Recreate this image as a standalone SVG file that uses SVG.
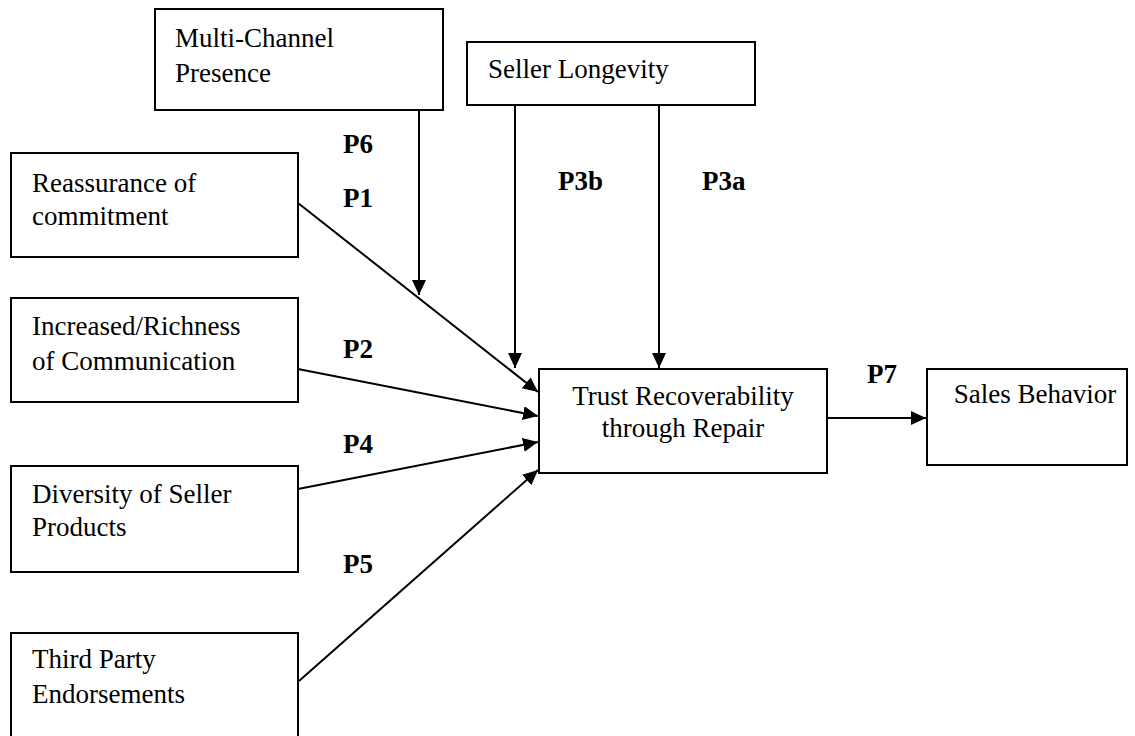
<svg xmlns="http://www.w3.org/2000/svg" width="1135" height="736" viewBox="0 0 1135 736">
<style>
.box{fill:#fff;stroke:#000;stroke-width:2}
.t{font-family:"Liberation Serif","Times New Roman",serif;font-size:27px;fill:#000}
.p{font-family:"Liberation Serif","Times New Roman",serif;font-size:27px;font-weight:bold;fill:#000}
.c{stroke:#000;stroke-width:2;fill:none;marker-end:url(#ah)}
</style>
<defs>
<marker id="ah" markerUnits="userSpaceOnUse" markerWidth="16" markerHeight="14" refX="15" refY="7" orient="auto">
<path d="M0,0 L15,7 L0,14 z" fill="#000"/>
</marker>
</defs>
<rect width="1135" height="736" fill="#fff"/>
<g id="connectors">
<line class="c" x1="419" y1="110" x2="419" y2="295"/>
<line class="c" x1="515" y1="105" x2="515" y2="368"/>
<line class="c" x1="659" y1="105" x2="659" y2="368"/>
<line class="c" x1="298" y1="203" x2="538" y2="392"/>
<line class="c" x1="298" y1="369" x2="538" y2="416"/>
<line class="c" x1="298" y1="489" x2="538" y2="442"/>
<line class="c" x1="299" y1="681" x2="538" y2="470"/>
<line class="c" x1="827" y1="418" x2="926" y2="418"/>
</g>
<g id="labels">
<text class="p" x="343" y="153">P6</text>
<text class="p" x="343" y="207">P1</text>
<text class="p" x="343" y="358">P2</text>
<text class="p" x="343" y="453">P4</text>
<text class="p" x="343" y="573">P5</text>
<text class="p" x="558" y="190">P3b</text>
<text class="p" x="702" y="190">P3a</text>
<text class="p" x="867" y="383">P7</text>
</g>
<g id="multi-channel">
<rect class="box" x="155" y="9" width="288" height="101"/>
<text class="t" x="175" y="47">Multi-Channel</text>
<text class="t" x="175" y="82">Presence</text>
</g>
<g id="seller-longevity">
<rect class="box" x="467" y="42" width="288" height="63"/>
<text class="t" x="488" y="78">Seller Longevity</text>
</g>
<g id="reassurance">
<rect class="box" x="11" y="153" width="287" height="104"/>
<text class="t" x="32" y="192">Reassurance of</text>
<text class="t" x="32" y="225">commitment</text>
</g>
<g id="communication">
<rect class="box" x="11" y="298" width="287" height="104"/>
<text class="t" x="32" y="335">Increased/Richness</text>
<text class="t" x="32" y="370">of Communication</text>
</g>
<g id="diversity">
<rect class="box" x="11" y="466" width="287" height="106"/>
<text class="t" x="32" y="503">Diversity of Seller</text>
<text class="t" x="32" y="536">Products</text>
</g>
<g id="third-party">
<rect class="box" x="11" y="633" width="287" height="110"/>
<text class="t" x="32" y="668">Third Party</text>
<text class="t" x="32" y="703">Endorsements</text>
</g>
<g id="trust">
<rect class="box" x="539" y="369" width="288" height="104"/>
<text class="t" x="683" y="405" text-anchor="middle">Trust Recoverability</text>
<text class="t" x="683" y="437" text-anchor="middle">through Repair</text>
</g>
<g id="sales">
<rect class="box" x="927" y="369" width="200" height="96"/>
<text class="t" x="1035" y="403" text-anchor="middle">Sales Behavior</text>
</g>
</svg>
